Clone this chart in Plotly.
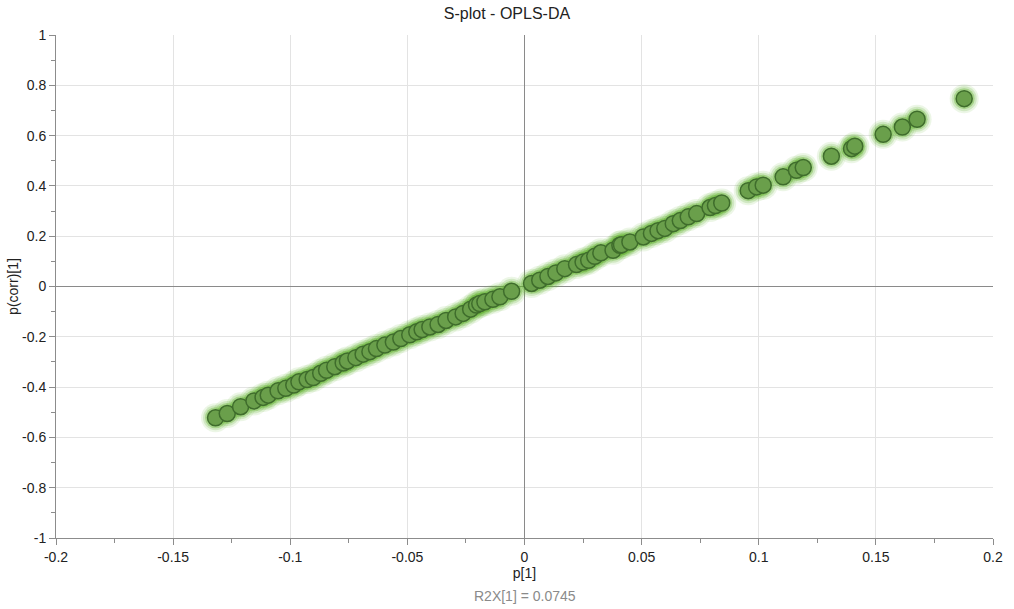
import plotly.graph_objects as go

# Loadings: p[1] (covariance) vs p(corr)[1] (correlation) for the predictive component
p1 = [
    -0.1319, -0.1269, -0.1212, -0.1155, -0.1116, -0.1094, -0.1052, -0.1019,
    -0.0985, -0.0963, -0.0928, -0.0902, -0.0870, -0.0845, -0.0810, -0.0774,
    -0.0756, -0.0720, -0.0689, -0.0660, -0.0632, -0.0596, -0.0560, -0.0528,
    -0.0490, -0.0460, -0.0437, -0.0404, -0.0369, -0.0335, -0.0294, -0.0262,
    -0.0230, -0.0205, -0.0191, -0.0169, -0.0135, -0.0105, -0.0055, 0.0030,
    0.0065, 0.0100, 0.0134, 0.0172, 0.0222, 0.0250, 0.0274, 0.0300,
    0.0326, 0.0378, 0.0407, 0.0414, 0.0450, 0.0507, 0.0542, 0.0570,
    0.0599, 0.0635, 0.0665, 0.0699, 0.0735, 0.0792, 0.0815, 0.0842,
    0.0955, 0.0991, 0.1019, 0.1104, 0.1161, 0.1190, 0.1310, 0.1396,
    0.1410, 0.1531, 0.1613, 0.1676, 0.1877,
]
pcorr1 = [
    -0.522, -0.505, -0.478, -0.455, -0.441, -0.432, -0.415, -0.405,
    -0.392, -0.379, -0.370, -0.362, -0.345, -0.333, -0.319, -0.304,
    -0.296, -0.283, -0.269, -0.259, -0.247, -0.233, -0.221, -0.207,
    -0.192, -0.180, -0.171, -0.161, -0.151, -0.135, -0.121, -0.107,
    -0.090, -0.074, -0.068, -0.061, -0.051, -0.041, -0.019, 0.012,
    0.025, 0.040, 0.054, 0.071, 0.087, 0.097, 0.104, 0.120,
    0.134, 0.144, 0.164, 0.166, 0.177, 0.197, 0.211, 0.222,
    0.231, 0.250, 0.262, 0.277, 0.290, 0.314, 0.322, 0.332,
    0.381, 0.396, 0.403, 0.436, 0.462, 0.473, 0.518, 0.548,
    0.558, 0.605, 0.634, 0.665, 0.747,
]

x_tickvals = [-0.2, -0.15, -0.1, -0.05, 0, 0.05, 0.1, 0.15, 0.2]
x_ticktext = ["-0.2", "-0.15", "-0.1", "-0.05", "0", "0.05", "0.1", "0.15", "0.2"]
y_tickvals = [1, 0.8, 0.6, 0.4, 0.2, 0, -0.2, -0.4, -0.6, -0.8, -1]
y_ticktext = ["1", "0.8", "0.6", "0.4", "0.2", "0", "-0.2", "-0.4", "-0.6", "-0.8", "-1"]

title_text = "S-plot - OPLS-DA"
r2x_text = "R2X[1] = 0.0745"

FONT = "Liberation Sans, Arial, sans-serif"

fig = go.Figure()

# soft green halo under each marker
for size, alpha in [(29, 0.12), (25, 0.20), (21, 0.38)]:
    fig.add_trace(go.Scatter(
        x=p1, y=pcorr1, mode="markers", hoverinfo="skip", showlegend=False,
        marker=dict(size=size, color=f"rgba(100,178,50,{alpha})", line=dict(width=0)),
    ))

fig.add_trace(go.Scatter(
    x=p1, y=pcorr1, mode="markers", showlegend=False,
    marker=dict(size=16, color="#6a9f4b", line=dict(color="#3f6d2c", width=1.5)),
))

axis_common = dict(
    showline=True, linecolor="#8c8c8c", linewidth=1,
    showgrid=True, gridcolor="#e3e3e3", gridwidth=1,
    zeroline=True, zerolinecolor="#8a8a8a", zerolinewidth=1,
    ticks="outside", ticklen=6, tickcolor="#8c8c8c",
    tickfont=dict(family=FONT, size=14, color="#222"),
    mirror=False, automargin=False,
)

fig.update_xaxes(
    range=[-0.2, 0.2], tickmode="array", tickvals=x_tickvals, ticktext=x_ticktext,
    title=dict(text="p[1]", font=dict(family=FONT, size=14, color="#222"), standoff=4),
    minor=dict(tickmode="linear", tick0=0.025, dtick=0.05, ticks="outside",
               ticklen=4, tickcolor="#8c8c8c", showgrid=False),
    **axis_common,
)
fig.update_yaxes(
    range=[-1, 1], tickmode="array", tickvals=y_tickvals, ticktext=y_ticktext,
    title=dict(text="p(corr)[1]", font=dict(family=FONT, size=14, color="#222"), standoff=0),
    minor=dict(tickmode="linear", tick0=0.1, dtick=0.2, ticks="outside",
               ticklen=4, tickcolor="#8c8c8c", showgrid=False),
    **axis_common,
)

fig.update_layout(
    width=1014, height=609,
    margin=dict(l=56, r=21, t=35, b=71),
    paper_bgcolor="white", plot_bgcolor="white",
    title=dict(text=title_text, x=0.5, xanchor="center", y=0.978, yanchor="middle",
               font=dict(family=FONT, size=16, color="#222")),
    annotations=[dict(
        text=r2x_text, xref="paper", yref="paper", x=0.5, y=-0.115,
        xanchor="center", yanchor="middle", showarrow=False,
        font=dict(family=FONT, size=14, color="#8a8a8a"),
    )],
)

fig.write_html("out.html")
